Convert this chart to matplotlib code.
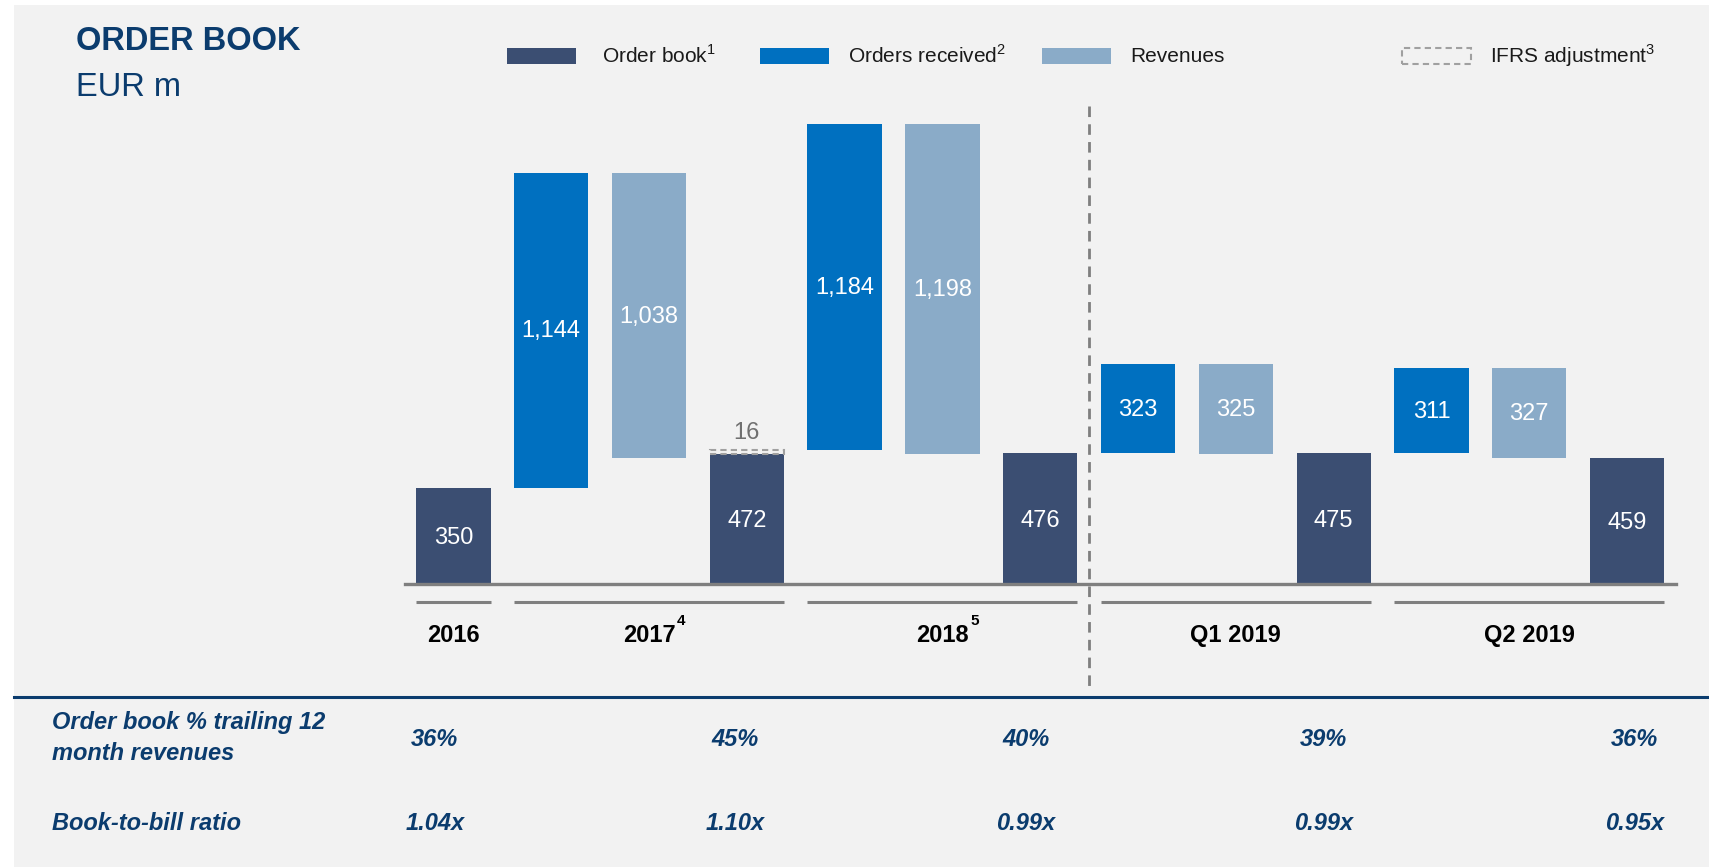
import numpy as np
import matplotlib.pyplot as plt
from matplotlib.patches import Rectangle
import matplotlib.transforms as mtransforms

plt.rcParams['font.family'] = ['Liberation Sans', 'DejaVu Sans']
plt.rcParams['mathtext.fontset'] = 'custom'
plt.rcParams['mathtext.rm'] = 'Liberation Sans'
plt.rcParams['mathtext.bf'] = 'Liberation Sans:bold'

# data
periods = ['2016', '2017', '2018', 'Q1 2019', 'Q2 2019']
period_notes = ['', '4', '5', '', '']
order_book = [350, 472, 476, 475, 459]
orders_received = [0, 1144, 1184, 323, 311]
revenues = [0, 1038, 1198, 325, 327]
ifrs_adjustment = [0, 16, 0, 0, 0]
ob_pct_ttm = ['36%', '45%', '40%', '39%', '36%']
book_to_bill = ['1.04x', '1.10x', '0.99x', '0.99x', '0.95x']

c_ob = '#3b4e72'
c_or = '#0070c0'
c_rev = '#8aabc8'
navy = '#0b3c6e'
grey = '#7f7f7f'
bg = '#f2f2f2'

W, H = 1709, 867
fig = plt.figure(figsize=(W / 100, H / 100), dpi=100)
fig.patch.set_facecolor('white')


def fx(x):
    return x / W


def fy(y):
    return 1 - y / H


fig.add_artist(Rectangle((fx(14), 0), 1 - fx(14), fy(5), transform=fig.transFigure,
                         facecolor=bg, edgecolor='none', zorder=-10))

ax = fig.add_axes([fx(404.5), fy(584), (1676 - 404.5) / W, 495.5 / H])
ax.set_facecolor('none')
ax.set_xlim(-0.5, 12.5)
ax.set_ylim(0, 1800)
ax.axis('off')

bw = 0.76
lbl = dict(color='white', fontsize=17, ha='center', va='center')

for k in range(len(periods)):
    ob_x = 3 * k
    ax.bar(ob_x, order_book[k], width=bw, color=c_ob, zorder=3)
    ax.text(ob_x, order_book[k] / 2 - 8, f'{order_book[k]:,}', zorder=4, **lbl)
    if k > 0:
        start = order_book[k - 1] + ifrs_adjustment[k - 1]
        top = start + orders_received[k]
        ax.bar(ob_x - 2, orders_received[k], bottom=start, width=bw, color=c_or, zorder=3)
        ax.text(ob_x - 2, start + orders_received[k] / 2 - 4, f'{orders_received[k]:,}', zorder=4, **lbl)
        ax.bar(ob_x - 1, revenues[k], bottom=top - revenues[k], width=bw, color=c_rev, zorder=3)
        ax.text(ob_x - 1, top - revenues[k] / 2 - 4, f'{revenues[k]:,}', zorder=4, **lbl)
    if ifrs_adjustment[k]:
        ax.bar(ob_x, ifrs_adjustment[k], bottom=order_book[k], width=bw, facecolor='none',
               edgecolor='#a0a0a0', linewidth=1.5, linestyle=(0, (3, 2)), zorder=3)
        ax.text(ob_x, order_book[k] + ifrs_adjustment[k] + 20, str(ifrs_adjustment[k]),
                color='#707070', fontsize=17, ha='center', va='bottom')

    # group underline and period label
    left = ob_x - 2 - bw / 2 if k > 0 else ob_x - bw / 2
    ax.plot([left, ob_x + bw / 2], [-64, -64], color=grey, lw=2.2, clip_on=False,
            solid_capstyle='butt')
    gx = ob_x - 1 if k > 0 else ob_x
    ax.text(gx, -186, periods[k], fontsize=17, fontweight='bold', ha='center',
            va='center', clip_on=False)
    if period_notes[k]:
        ax.annotate(period_notes[k], xy=(gx, -186), xytext=(20, 10), textcoords='offset points',
                    fontsize=11, fontweight='bold', ha='left', va='center',
                    annotation_clip=False)

# baseline
ax.axhline(0, color=grey, lw=2.4, zorder=5, clip_on=False)

# divider between annual and quarterly
ln, = ax.plot([6.5, 6.5], [1736, -392], color=grey, lw=2, clip_on=False)
ln.set_dashes((3.8, 2.6))

# title
fig.text(fx(76), fy(42), 'ORDER BOOK', fontsize=23.5, fontweight='bold', color=navy, va='center')
fig.text(fx(76), fy(88), 'EUR m', fontsize=23.5, color=navy, va='center')

# legend
leg_y = 56
items = [(507, 602, c_ob, 'Order book$^{1}$', False),
         (760, 848, c_or, 'Orders received$^{2}$', False),
         (1042, 1130, c_rev, 'Revenues', False),
         (1402, 1490, None, 'IFRS adjustment$^{3}$', True)]
for px0, tx, col, txt, dashed in items:
    if dashed:
        r = Rectangle((fx(px0), fy(leg_y + 7.5)), 69 / W, 15 / H, transform=fig.transFigure,
                      facecolor='none', edgecolor='#a0a0a0', linewidth=1.5, linestyle=(0, (3, 2)))
    else:
        r = Rectangle((fx(px0), fy(leg_y + 7.5)), 69 / W, 15 / H, transform=fig.transFigure,
                      facecolor=col, edgecolor='none')
    fig.add_artist(r)
    fig.text(fx(tx), fy(leg_y), txt, fontsize=15, color='#1a1a1a', va='center')

# KPI table
fig.add_artist(plt.Line2D([fx(14), 1], [fy(697), fy(697)], transform=fig.transFigure,
                          color=navy, lw=2.2))
fig.text(fx(52), fy(738), 'Order book % trailing 12\nmonth revenues', fontsize=17,
         fontweight='bold', fontstyle='italic', color=navy, va='center', linespacing=1.4)
fig.text(fx(52), fy(824), 'Book-to-bill ratio', fontsize=17,
         fontweight='bold', fontstyle='italic', color=navy, va='center')

tbl_off = [-0.19, -0.12, -0.145, -0.10, 0.08]
trans = mtransforms.blended_transform_factory(ax.transData, fig.transFigure)
for k in range(len(periods)):
    x = 3 * k + tbl_off[k]
    fig.text(x, fy(740), ob_pct_ttm[k], transform=trans, fontsize=17, fontweight='bold',
             fontstyle='italic', color=navy, ha='center', va='center')
    fig.text(x, fy(824), book_to_bill[k], transform=trans, fontsize=17, fontweight='bold',
             fontstyle='italic', color=navy, ha='center', va='center')

fig.savefig('out.png', dpi=100, facecolor=fig.get_facecolor())
